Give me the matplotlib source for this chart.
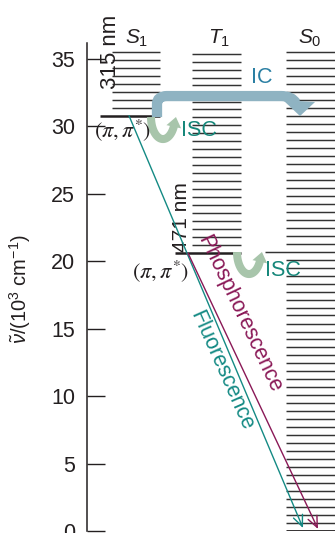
import matplotlib
matplotlib.use("Agg")
import numpy as np
import matplotlib.pyplot as plt
from matplotlib.path import Path
from matplotlib.patches import PathPatch, Polygon

plt.rcParams['font.family'] = ['Liberation Sans', 'DejaVu Sans']
plt.rcParams['mathtext.fontset'] = 'custom'
plt.rcParams['mathtext.rm'] = 'Liberation Sans'
plt.rcParams['mathtext.it'] = 'Liberation Sans:italic'

# energy levels, 10^3 cm^-1
s1_levels = [30.79, 31.38, 31.97, 32.57, 33.16, 33.75, 34.34, 34.94, 35.53]
t1_levels = [20.60, 21.19, 21.78, 22.38, 22.97, 23.56, 24.15, 24.74, 25.33,
             25.93, 26.52, 27.11, 27.70, 28.29, 28.88, 29.48, 30.07, 30.66,
             31.25, 31.84, 32.43, 33.03, 33.62, 34.21, 34.80, 35.39]
s0_levels = [0.00, 0.59, 1.18, 1.78, 2.37, 2.96, 3.55, 4.14, 4.73, 5.33,
             5.92, 6.51, 7.10, 7.69, 8.28, 8.88, 9.47, 10.06, 10.65, 11.24,
             11.83, 12.43, 13.02, 13.61, 14.20, 14.79, 15.38, 15.98, 16.57,
             17.16, 17.75, 18.34, 18.93, 19.53, 20.12, 20.71, 21.30, 21.89,
             22.48, 23.08, 23.67, 24.26, 24.85, 25.44, 26.03, 26.63, 27.22,
             27.81, 28.40, 28.99, 29.58, 30.18, 30.77, 31.36, 31.95, 32.54,
             33.13, 33.73, 34.32, 34.91, 35.50]
yticks = [0, 5, 10, 15, 20, 25, 30, 35]

DARK = '#231f20'
TEAL = '#148a84'
MAROON = '#8a1957'
IC_BAND = '#8fb3c2'
IC_TEXT = '#2a7fa3'
ISC_BAND = '#a8c5ab'
ISC_TEXT = '#16877a'

fig = plt.figure(figsize=(3.35, 5.33), dpi=100)
ax = fig.add_axes([86.7 / 335, 2 / 533, 248.3 / 335, 488 / 533])
ax.set_xlim(0, 248.3)
ax.set_ylim(0, 36.18)

# x data unit = 1 px from spine; y in data
SC = 13.49
def P(px, py):
    return (px - 86.7, (531 - py) / SC)

# columns (x ranges)
s1_x, s1_x0 = (25.3, 73.3), 13.3
t1_x, t1_x0 = (105.0, 154.3), 88.3
s0_x = (199.3, 248.3)

lw_thin = 1.05
for i, y in enumerate(s1_levels):
    if i == 0:
        ax.plot([s1_x0, s1_x[1]], [y, y], color=DARK, lw=1.8, solid_capstyle='butt')
    else:
        ax.plot(s1_x, [y, y], color='#333333', lw=lw_thin, solid_capstyle='butt')
for i, y in enumerate(t1_levels):
    if i == 0:
        ax.plot([t1_x0, t1_x[1]], [y, y], color=DARK, lw=1.8, solid_capstyle='butt')
    else:
        ax.plot(t1_x, [y, y], color='#333333', lw=lw_thin, solid_capstyle='butt')
for i, y in enumerate(s0_levels):
    if i == 0:
        ax.plot(s0_x, [y, y], color=DARK, lw=2.0, solid_capstyle='butt')
    elif i == 35:
        ax.plot([178.3, s0_x[1]], [y, y], color='#333333', lw=lw_thin, solid_capstyle='butt')
    else:
        ax.plot(s0_x, [y, y], color='#333333', lw=lw_thin, solid_capstyle='butt')

# axis styling
for s in ['top', 'right', 'bottom']:
    ax.spines[s].set_visible(False)
ax.spines['left'].set_color(DARK)
ax.spines['left'].set_linewidth(1.1)
ax.set_xticks([])
ax.set_yticks(yticks)
ax.tick_params(axis='y', direction='in', length=13, width=1.0, color=DARK,
               labelsize=15.5, labelcolor=DARK, pad=8.5)
fig.text(20 / 335, 1 - 289 / 533, r'$\tilde{\nu}$/(10$^3$ cm$^{-1}$)', rotation=90,
         ha='center', va='center', fontsize=14.5, color=DARK)

# IC band
pts = [P(157, 117), P(157, 104), P(157, 96), P(167, 96), P(281, 96), P(292, 96), P(296, 103)]
codes = [Path.MOVETO, Path.LINETO, Path.CURVE3, Path.CURVE3, Path.LINETO, Path.CURVE3, Path.CURVE3]
ax.add_patch(PathPatch(Path(pts, codes), fill=False, edgecolor=IC_BAND, lw=7.4,
                       capstyle='butt', joinstyle='round', zorder=3))
ax.add_patch(Polygon([P(283, 100), P(315, 102), P(300, 116)], closed=True,
                     facecolor=IC_BAND, edgecolor='none', zorder=3))

# ISC arrows: half-ellipse body with a head pointing up-right
def isc_arrow(cx, cy, rx, ry):
    t = np.radians(np.linspace(180, 22, 40))
    body = [P(cx + rx * np.cos(a), cy + ry * np.sin(a)) for a in t]
    bx, by = body[-1]
    ax.plot([b[0] for b in body], [b[1] for b in body], color=ISC_BAND, lw=5.8,
            solid_capstyle='butt', zorder=3)
    ex, ey = cx + rx * np.cos(t[-1]), cy + ry * np.sin(t[-1])
    d = np.array([np.sin(t[-1]) * rx, -np.cos(t[-1]) * ry])
    d = d / np.hypot(*d)
    n = np.array([-d[1], d[0]])
    base = np.array([ex, ey]) - d * 1.5
    tip = base + d * 10
    ax.add_patch(Polygon([P(*(base + n * 7.5)), P(*(base - n * 7.5)), P(*tip)], closed=True,
                         facecolor=ISC_BAND, edgecolor='none', zorder=3))

isc_arrow(163, 117, 12, 22)
isc_arrow(249, 252, 12, 22)

# emission arrows
ax.annotate('', xy=(216.3, 0.22), xytext=(42.3, s1_levels[0]),
            arrowprops=dict(arrowstyle='->,head_length=0.8,head_width=0.35', color=TEAL, lw=1.0,
                            shrinkA=0, shrinkB=0), zorder=4)
ax.annotate('', xy=(231.3, 0.15), xytext=(101.3, t1_levels[0]),
            arrowprops=dict(arrowstyle='->,head_length=0.8,head_width=0.35', color=MAROON, lw=1.0,
                            shrinkA=0, shrinkB=0), zorder=4)

# labels
def lab(px, py, s, **kw):
    x, y = P(px, py)
    kw.setdefault('ha', 'center')
    kw.setdefault('va', 'center')
    ax.text(x, y, s, **kw)

lab(137, 38, r'$S_1$', fontsize=15, color=DARK)
lab(219, 38, r'$T_1$', fontsize=15, color=DARK)
lab(310, 38, r'$S_0$', fontsize=15, color=DARK)
lab(111, 52, '315 nm', fontsize=16, rotation=90, color=DARK)
lab(181.5, 217, '471 nm', fontsize=15, rotation=90, color=DARK)
lab(123, 130, r'$(\pi,\pi^{*})$', fontsize=16, color=DARK, math_fontfamily='stix')
lab(161, 271, r'$(\pi,\pi^{*})$', fontsize=16, color=DARK, math_fontfamily='stix')
lab(262, 77, 'IC', fontsize=15.5, color=IC_TEXT)
lab(199, 130, 'ISC', fontsize=15.5, color=ISC_TEXT, zorder=4)
lab(283, 270, 'ISC', fontsize=15.5, color=ISC_TEXT, zorder=4)
lab(221, 371, 'Fluorescence', fontsize=15.5, color=TEAL, rotation=-66, rotation_mode='anchor')
lab(239, 314, 'Phosphorescence', fontsize=15.5, color=MAROON, rotation=-64.7, rotation_mode='anchor')

fig.savefig('out.png', dpi=100)
